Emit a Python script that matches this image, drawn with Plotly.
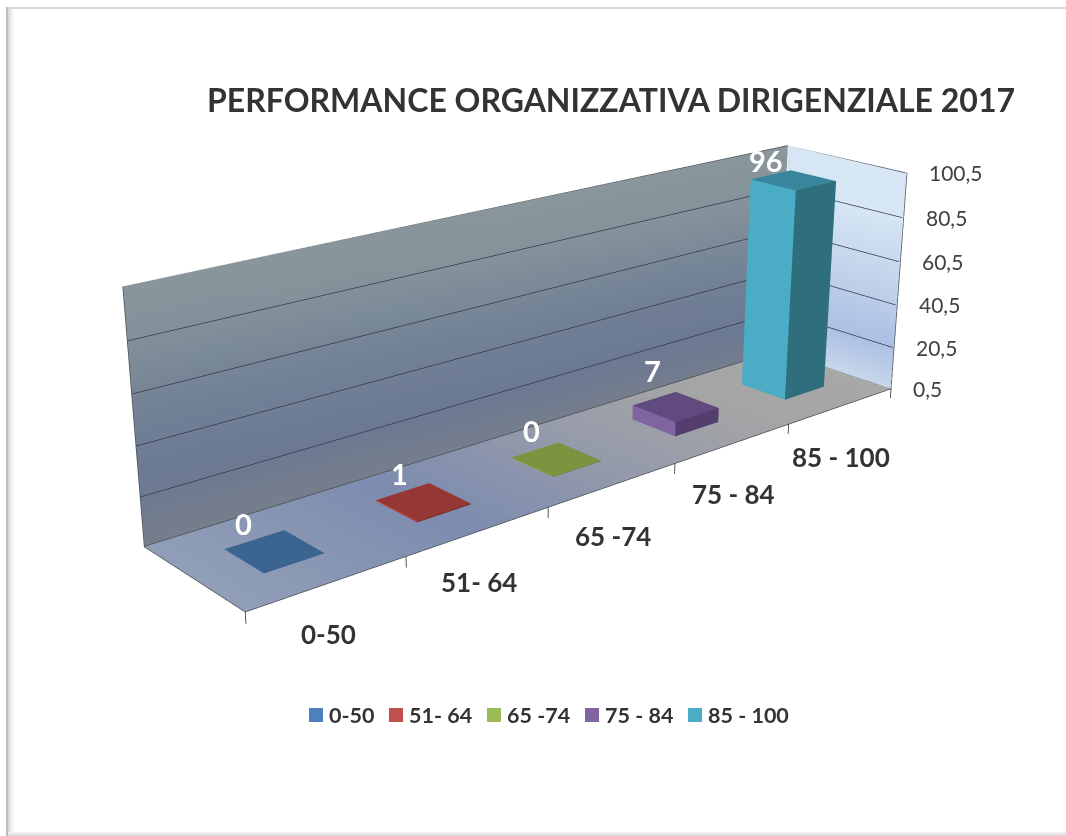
import numpy as np
import plotly.graph_objects as go

CATEGORIES = ["0-50", "51- 64", "65 -74", "75 - 84", "85 - 100"]
VALUES = [0, 1, 0, 7, 96]
Z_TICKS = [0.5, 20.5, 40.5, 60.5, 80.5, 100.5]
Z_TICK_LABELS = ["0,5", "20,5", "40,5", "60,5", "80,5", "100,5"]
TITLE = "PERFORMANCE ORGANIZZATIVA DIRIGENZIALE 2017"
SIDE = ["#4f81bd", "#c0504d", "#9bbb59", "#8064a2", "#4bacc6"]
TOP = ["#3c6491", "#953735", "#7a943f", "#614a7e", "#37869c"]
FRONT = ["#335a85", "#7f2e2c", "#657c35", "#533e6d", "#2f6e7d"]
LABEL_SHIFT = [(-31, 28), (-24, 28), (-25, 29), (-23, 36), (-27, 20)]

W, H = 1066, 836
LO = [0.0, 0.0, -10.0]
HI = [5.0, 1.0, 100.5]
FLOOR_Z = 0.5
TOP_Z = 100.5
HALF = 0.19
FOVY = 0.4419
EYE = dict(x=-4.21405, y=-4.82196, z=2.22268)
CENTER = dict(x=-0.09499, y=0.02064, z=-0.22177)
ASPECT = dict(x=3.09757, y=0.62777, z=1.0)
FONT = "Lato"
flat = dict(ambient=1, diffuse=0, specular=0, fresnel=0)


def cuboid(i, top):
    x0, x1, y0, y1, z0 = i + .5 - HALF, i + .5 + HALF, .5 - HALF, .5 + HALF, FLOOR_Z
    xs = [x0, x1, x1, x0, x0, x1, x1, x0]
    ys = [y0, y0, y1, y1, y0, y0, y1, y1]
    zs = [z0] * 4 + [top] * 4
    return go.Mesh3d(x=xs, y=ys, z=zs,
                     i=[0, 0, 4, 4, 0, 0, 1, 1, 3, 3, 0, 0],
                     j=[1, 5, 5, 6, 4, 7, 2, 6, 2, 6, 1, 2],
                     k=[5, 4, 6, 7, 7, 3, 6, 5, 6, 7, 2, 3],
                     facecolor=[FRONT[i]] * 2 + [TOP[i]] * 2 + [SIDE[i]] * 2 + [FRONT[i]] * 2 + [SIDE[i]] * 2 + [FRONT[i]] * 2,
                     flatshading=True, lighting=flat, hoverinfo="skip", showscale=False)


def rgb(c):
    return "rgb(%d,%d,%d)" % tuple(c)


def grid_mesh(us, vs, pos, color):
    X, Y, Z, C, I, J, K = [], [], [], [], [], [], []
    n = len(vs)
    for u in us:
        for v in vs:
            x, y, z = pos(u, v)
            X.append(x); Y.append(y); Z.append(z); C.append(rgb(color(u, v)))
    for a in range(len(us) - 1):
        for b in range(n - 1):
            p0 = a * n + b; p1 = p0 + 1; p2 = p0 + n; p3 = p2 + 1
            I += [p0, p1]; J += [p2, p2]; K += [p1, p3]
    return go.Mesh3d(x=X, y=Y, z=Z, i=I, j=J, k=K, vertexcolor=C, lighting=flat, hoverinfo="skip", showscale=False)


def stops(t, pts):
    ts = [a for a, _ in pts]
    return [float(np.interp(t, ts, [c[i] for _, c in pts])) for i in range(3)]


BACK = [(0, (118, 126, 140)), (.2, (108, 121, 148)), (.5, (115, 130, 150)), (.8, (133, 147, 155)), (1, (137, 150, 155))]
RIGHT = [(0, (200, 215, 235)), (.2, (172, 192, 228)), (.5, (195, 212, 235)), (.8, (215, 230, 245)), (1, (215, 230, 245))]
FLOOR = [(0, (145, 158, 183)), (.3, (125, 140, 175)), (.55, (150, 155, 170)), (.8, (165, 165, 165)), (1, (168, 168, 168))]
us = np.linspace(0, 5, 11).tolist()
fs = np.linspace(0, 1, 11).tolist()

traces = [
    grid_mesh(us, fs, lambda u, v: (u, 1, FLOOR_Z + 100 * v), lambda u, v: stops(np.clip(v + (u - 2.5) * .02, 0, 1), BACK)),
    grid_mesh(fs, fs, lambda u, v: (5, u, FLOOR_Z + 100 * v), lambda u, v: stops(v, RIGHT)),
    grid_mesh(us, fs, lambda u, v: (u, v, FLOOR_Z), lambda u, v: stops(u / 5, FLOOR)),
]
for i, v in enumerate(VALUES):
    traces.append(cuboid(i, max(v, 0.7)))


def lines(segs, color, width):
    X, Y, Z = [], [], []
    for a, b in segs:
        X += [a[0], b[0], None]; Y += [a[1], b[1], None]; Z += [a[2], b[2], None]
    return go.Scatter3d(x=X, y=Y, z=Z, mode="lines", line=dict(color=color, width=width), hoverinfo="skip", showlegend=False)


wall = []
e = 0.003
for t in Z_TICKS[1:-1]:
    wall.append(((0, 1 - e, t), (5, 1 - e, t)))
    wall.append(((5 - e * 5, 1 - e, t), (5 - e * 5, 0, t)))
traces.append(lines(wall, "#343a48", 1.5))
edges = [((0, 1 - e, FLOOR_Z), (0, 1 - e, TOP_Z)), ((0, 1 - e, TOP_Z), (5, 1 - e, TOP_Z)), ((5 - e * 5, 1 - e, TOP_Z), (5 - e * 5, 0, TOP_Z)),
         ((0, 1 - e, FLOOR_Z), (0, 0, FLOOR_Z)), ((0, 0, FLOOR_Z), (5, 0, FLOOR_Z)), ((5, 0, FLOOR_Z), (5, 1, FLOOR_Z)),
         ((5, 0, FLOOR_Z), (5, 0, TOP_Z)), ((0, 1 - e, 0.7), (5, 1 - e, 0.7))]
traces.append(lines(edges, "#4a4f55", 1.5))
traces.append(lines([((i, 0, FLOOR_Z), (i, 0, -4)) for i in range(6)], "#222222", 1.5))

anns = []
for i, c in enumerate(CATEGORIES):
    anns.append(dict(x=i + .5, y=0, z=FLOOR_Z, text=c, showarrow=False, xshift=0, yshift=-51,
                     font=dict(family=FONT, size=26, color="#333333", weight=700)))
    anns.append(dict(x=i + .5, y=.5, z=max(VALUES[i], 0.7), text=str(VALUES[i]), showarrow=False,
                     xshift=LABEL_SHIFT[i][0], yshift=LABEL_SHIFT[i][1],
                     font=dict(family=FONT, size=29, color="#ffffff", weight=700)))
for t, l in zip(Z_TICKS, Z_TICK_LABELS):
    anns.append(dict(x=5, y=0, z=t, text=l, showarrow=False, xanchor="left", xshift=20, yshift=0,
                     font=dict(family=FONT, size=21, color="#404040")))

fig = go.Figure(traces)
LEG_X = [309, 389, 487, 585, 688]
layout_extra = {}
for i, c in enumerate(CATEGORIES):
    name = "legend" if i == 0 else "legend%d" % (i + 1)
    fig.add_trace(go.Scatter(x=[None], y=[None], mode="markers", name=c, legend=name,
                             marker=dict(symbol="square", size=14, color=SIDE[i], line=dict(width=0))))
    layout_extra[name] = dict(x=(LEG_X[i] - 20) / W, y=1 - 715 / H, xanchor="left", yanchor="middle",
                              bgcolor="rgba(0,0,0,0)", font=dict(family=FONT, size=21.5, color="#333333", weight=700))

frame = [
    (6, 7, W, 9, "#d8d8d8"), (6, 7, 8, H, "#bcbcbc"), (8, 9, 10, H, "#d9d9d9"), (10, 9, 12, H, "#ececec"), (12, 9, 14, H, "#f7f7f7"),
    (8, 832, W, 834, "#f0f0f0"), (8, 834, W, H, "#dedede"),
]
fig.update_layout(
    width=W, height=H, margin=dict(l=0, r=0, t=0, b=0), paper_bgcolor="white", plot_bgcolor="rgba(0,0,0,0)",
    showlegend=True,
    title=dict(text=TITLE, x=611 / W, xanchor="center", y=1 - 101 / H, yanchor="middle",
               font=dict(family=FONT, size=32, color="#333333", weight=700)),
    xaxis=dict(visible=False), yaxis=dict(visible=False),
    scene=dict(xaxis=dict(visible=False, range=[LO[0], HI[0]]), yaxis=dict(visible=False, range=[LO[1], HI[1]]),
               zaxis=dict(visible=False, range=[LO[2], HI[2]]), bgcolor="rgba(0,0,0,0)",
               aspectmode="manual", aspectratio=ASPECT,
               camera=dict(eye=EYE, center=CENTER, up=dict(x=0, y=0, z=1), projection=dict(type="perspective")),
               annotations=anns, domain=dict(x=[0, 1], y=[0, 1])),
    shapes=[dict(type="rect", xref="paper", yref="paper", x0=a / W, x1=c / W, y0=1 - b / H, y1=1 - d / H,
                 fillcolor=col, line=dict(width=0), layer="below") for a, b, c, d, col in frame],
    **layout_extra,
)
post = """document.body.style.margin='0';
var gd=document.getElementById('{plot_id}');
var s=gd._fullLayout.scene._scene;
s.glplot.fovy=%s;
s.glplot.redraw();
document.querySelectorAll('.legendsymbols').forEach(function(n){n.setAttribute('transform','translate(7,0)');});""" % FOVY
fig.write_html("out.html", config=dict(displayModeBar=False), post_script=post)
